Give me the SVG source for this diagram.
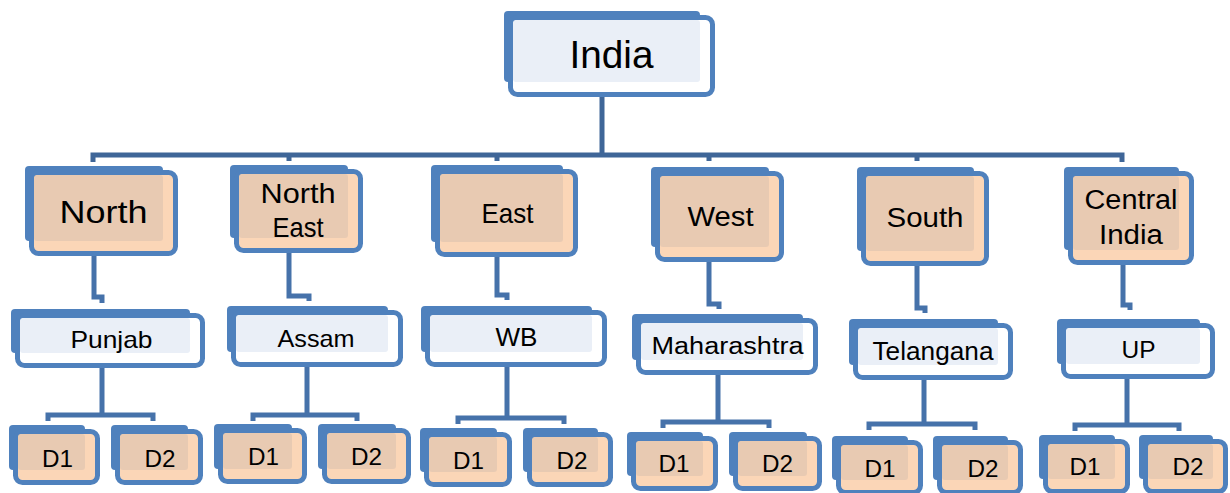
<svg xmlns="http://www.w3.org/2000/svg" width="1230" height="493" viewBox="0 0 1230 493">
<style>
.sh{fill:#4f81bd}
.fp{fill:#fbd6b7;stroke:#4f81bd;stroke-width:5}
.fb{fill:#ffffff;stroke:#4f81bd;stroke-width:5}
.ip{fill:#e8cab2}
.ib{fill:#eaeff7}
.t{font-family:"Liberation Sans",Arial,sans-serif;fill:#000;text-anchor:middle}
.c{fill:none;stroke:#4672aa;stroke-width:5;stroke-linejoin:miter}
.bus{fill:none;stroke:#3f6698;stroke-width:5}
</style>
<rect width="1230" height="493" fill="#ffffff"/>
<g id="connectors">
<path class="bus" d="M602,97 V155 M93,162 V155 H1122 V162 M289,155 V161 M497,155 V161 M709,155 V161 M917,155 V161"/>
<path class="c" d="M94,256 V297 H102 V303"/>
<path class="c" d="M289,253 V296 H309 V301"/>
<path class="c" d="M497,257 V295 H507 V300"/>
<path class="c" d="M709,262 V304 H719 V309"/>
<path class="c" d="M917,266 V308 H925 V313"/>
<path class="c" d="M1123,265 V305 H1130 V310"/>
<path class="c" d="M102,368 V415 M48,421 V415 H153 V421"/>
<path class="c" d="M307,367 V415 M253,421 V415 H357 V421"/>
<path class="c" d="M507,367 V418 M458,424 V418 H564 V424"/>
<path class="c" d="M718,375 V422 M663,428 V422 H769 V428"/>
<path class="c" d="M924,380 V424 M869,430 V424 H975 V430"/>
<path class="c" d="M1127,379 V425 M1075,431 V425 H1179 V431"/>
</g>
<g id="india">
<rect class="sh" x="504" y="11" width="196" height="71" rx="4"/>
<rect class="fb" x="510.5" y="17.5" width="202" height="77" rx="7"/>
<rect class="ib" x="513" y="20" width="187" height="62" rx="3"/>
<text class="t" x="611.5" y="68" font-size="38" textLength="84" lengthAdjust="spacingAndGlyphs">India</text>
</g>
<g id="north">
<rect class="sh" x="25" y="166" width="138" height="75" rx="4"/>
<rect class="fp" x="31.5" y="172.5" width="144" height="81" rx="7"/>
<rect class="ip" x="34" y="175" width="129" height="66" rx="3"/>
<text class="t" x="103.5" y="223" font-size="32" textLength="88" lengthAdjust="spacingAndGlyphs">North</text>
</g>
<g id="northeast">
<rect class="sh" x="230" y="165" width="118" height="73" rx="4"/>
<rect class="fp" x="236.5" y="171.5" width="124" height="79" rx="7"/>
<rect class="ip" x="239" y="174" width="109" height="64" rx="3"/>
<text class="t" x="298" y="203" font-size="28" textLength="75" lengthAdjust="spacingAndGlyphs">North</text>
<text class="t" x="298" y="237" font-size="28" textLength="51" lengthAdjust="spacingAndGlyphs">East</text>
</g>
<g id="east">
<rect class="sh" x="431" y="165" width="132" height="77" rx="4"/>
<rect class="fp" x="437.5" y="171.5" width="138" height="83" rx="7"/>
<rect class="ip" x="440" y="174" width="123" height="68" rx="3"/>
<text class="t" x="507.5" y="223" font-size="28" textLength="52" lengthAdjust="spacingAndGlyphs">East</text>
</g>
<g id="west">
<rect class="sh" x="651" y="167" width="118" height="80" rx="4"/>
<rect class="fp" x="657.5" y="173.5" width="124" height="86" rx="7"/>
<rect class="ip" x="660" y="176" width="109" height="71" rx="3"/>
<text class="t" x="720.5" y="226" font-size="27" textLength="66" lengthAdjust="spacingAndGlyphs">West</text>
</g>
<g id="south">
<rect class="sh" x="857" y="167" width="117" height="84" rx="4"/>
<rect class="fp" x="863.5" y="173.5" width="123" height="90" rx="7"/>
<rect class="ip" x="866" y="176" width="108" height="75" rx="3"/>
<text class="t" x="925" y="227" font-size="28" textLength="77" lengthAdjust="spacingAndGlyphs">South</text>
</g>
<g id="central">
<rect class="sh" x="1064" y="167" width="115" height="83" rx="4"/>
<rect class="fp" x="1070.5" y="173.5" width="121" height="89" rx="7"/>
<rect class="ip" x="1073" y="176" width="106" height="74" rx="3"/>
<text class="t" x="1131" y="209" font-size="27" textLength="93" lengthAdjust="spacingAndGlyphs">Central</text>
<text class="t" x="1131" y="244" font-size="27" textLength="64" lengthAdjust="spacingAndGlyphs">India</text>
</g>
<g id="punjab">
<rect class="sh" x="11" y="309" width="179" height="44" rx="4"/>
<rect class="fb" x="17.5" y="315.5" width="185" height="50" rx="7"/>
<rect class="ib" x="20" y="318" width="170" height="35" rx="3"/>
<text class="t" x="111.5" y="348" font-size="24" textLength="82" lengthAdjust="spacingAndGlyphs">Punjab</text>
</g>
<g id="assam">
<rect class="sh" x="227" y="306" width="161" height="46" rx="4"/>
<rect class="fb" x="233.5" y="312.5" width="167" height="52" rx="7"/>
<rect class="ib" x="236" y="315" width="152" height="37" rx="3"/>
<text class="t" x="316" y="347" font-size="24" textLength="77" lengthAdjust="spacingAndGlyphs">Assam</text>
</g>
<g id="wb">
<rect class="sh" x="421" y="306" width="171" height="46" rx="4"/>
<rect class="fb" x="427.5" y="312.5" width="177" height="52" rx="7"/>
<rect class="ib" x="430" y="315" width="162" height="37" rx="3"/>
<text class="t" x="516.5" y="346" font-size="25" textLength="42" lengthAdjust="spacingAndGlyphs">WB</text>
</g>
<g id="maharashtra">
<rect class="sh" x="632" y="314" width="171" height="46" rx="4"/>
<rect class="fb" x="638.5" y="320.5" width="177" height="52" rx="7"/>
<rect class="ib" x="641" y="323" width="162" height="37" rx="3"/>
<text class="t" x="727.5" y="354" font-size="23" textLength="152" lengthAdjust="spacingAndGlyphs">Maharashtra</text>
</g>
<g id="telangana">
<rect class="sh" x="849" y="319" width="149" height="46" rx="4"/>
<rect class="fb" x="855.5" y="325.5" width="155" height="52" rx="7"/>
<rect class="ib" x="858" y="328" width="140" height="37" rx="3"/>
<text class="t" x="933" y="360" font-size="25" textLength="121" lengthAdjust="spacingAndGlyphs">Telangana</text>
</g>
<g id="up">
<rect class="sh" x="1057" y="319" width="143" height="45" rx="4"/>
<rect class="fb" x="1063.5" y="325.5" width="149" height="51" rx="7"/>
<rect class="ib" x="1066" y="328" width="134" height="36" rx="3"/>
<text class="t" x="1138.5" y="358" font-size="24" textLength="34" lengthAdjust="spacingAndGlyphs">UP</text>
</g>
<g id="punjab-d1">
<rect class="sh" x="9" y="425" width="76" height="45" rx="4"/>
<rect class="fp" x="15.5" y="431.5" width="82" height="51" rx="7"/>
<rect class="ip" x="18" y="434" width="67" height="36" rx="3"/>
<text class="t" x="57.5" y="467" font-size="24" textLength="31" lengthAdjust="spacingAndGlyphs">D1</text>
</g>
<g id="punjab-d2">
<rect class="sh" x="111" y="425" width="77" height="45" rx="4"/>
<rect class="fp" x="117.5" y="431.5" width="83" height="51" rx="7"/>
<rect class="ip" x="120" y="434" width="68" height="36" rx="3"/>
<text class="t" x="160" y="467" font-size="24" textLength="31" lengthAdjust="spacingAndGlyphs">D2</text>
</g>
<g id="assam-d1">
<rect class="sh" x="214" y="424" width="78" height="45" rx="4"/>
<rect class="fp" x="220.5" y="430.5" width="84" height="51" rx="7"/>
<rect class="ip" x="223" y="433" width="69" height="36" rx="3"/>
<text class="t" x="263.5" y="465" font-size="24" textLength="31" lengthAdjust="spacingAndGlyphs">D1</text>
</g>
<g id="assam-d2">
<rect class="sh" x="318" y="424" width="78" height="45" rx="4"/>
<rect class="fp" x="324.5" y="430.5" width="84" height="51" rx="7"/>
<rect class="ip" x="327" y="433" width="69" height="36" rx="3"/>
<text class="t" x="366.5" y="465" font-size="24" textLength="31" lengthAdjust="spacingAndGlyphs">D2</text>
</g>
<g id="wb-d1">
<rect class="sh" x="420" y="428" width="77" height="44" rx="4"/>
<rect class="fp" x="426.5" y="434.5" width="83" height="50" rx="7"/>
<rect class="ip" x="429" y="437" width="68" height="35" rx="3"/>
<text class="t" x="468.5" y="469" font-size="24" textLength="31" lengthAdjust="spacingAndGlyphs">D1</text>
</g>
<g id="wb-d2">
<rect class="sh" x="523" y="428" width="75" height="44" rx="4"/>
<rect class="fp" x="529.5" y="434.5" width="81" height="50" rx="7"/>
<rect class="ip" x="532" y="437" width="66" height="35" rx="3"/>
<text class="t" x="572" y="469" font-size="24" textLength="31" lengthAdjust="spacingAndGlyphs">D2</text>
</g>
<g id="maharashtra-d1">
<rect class="sh" x="627" y="432" width="76" height="44" rx="4"/>
<rect class="fp" x="633.5" y="438.5" width="82" height="50" rx="7"/>
<rect class="ip" x="636" y="441" width="67" height="35" rx="3"/>
<text class="t" x="674" y="472" font-size="24" textLength="31" lengthAdjust="spacingAndGlyphs">D1</text>
</g>
<g id="maharashtra-d2">
<rect class="sh" x="729" y="432" width="78" height="44" rx="4"/>
<rect class="fp" x="735.5" y="438.5" width="84" height="50" rx="7"/>
<rect class="ip" x="738" y="441" width="69" height="35" rx="3"/>
<text class="t" x="777.5" y="472" font-size="24" textLength="31" lengthAdjust="spacingAndGlyphs">D2</text>
</g>
<g id="telangana-d1">
<rect class="sh" x="832" y="436" width="76" height="44" rx="4"/>
<rect class="fp" x="838.5" y="442.5" width="82" height="50" rx="7"/>
<rect class="ip" x="841" y="445" width="67" height="35" rx="3"/>
<text class="t" x="880" y="477" font-size="24" textLength="31" lengthAdjust="spacingAndGlyphs">D1</text>
</g>
<g id="telangana-d2">
<rect class="sh" x="933" y="436" width="75" height="44" rx="4"/>
<rect class="fp" x="939.5" y="442.5" width="81" height="50" rx="7"/>
<rect class="ip" x="942" y="445" width="66" height="35" rx="3"/>
<text class="t" x="983" y="477" font-size="24" textLength="31" lengthAdjust="spacingAndGlyphs">D2</text>
</g>
<g id="up-d1">
<rect class="sh" x="1039" y="435" width="76" height="44" rx="4"/>
<rect class="fp" x="1045.5" y="441.5" width="82" height="50" rx="7"/>
<rect class="ip" x="1048" y="444" width="67" height="35" rx="3"/>
<text class="t" x="1085" y="475" font-size="24" textLength="31" lengthAdjust="spacingAndGlyphs">D1</text>
</g>
<g id="up-d2">
<rect class="sh" x="1139" y="435" width="74" height="44" rx="4"/>
<rect class="fp" x="1145.5" y="441.5" width="80" height="50" rx="7"/>
<rect class="ip" x="1148" y="444" width="65" height="35" rx="3"/>
<text class="t" x="1188" y="475" font-size="24" textLength="31" lengthAdjust="spacingAndGlyphs">D2</text>
</g>
</svg>
